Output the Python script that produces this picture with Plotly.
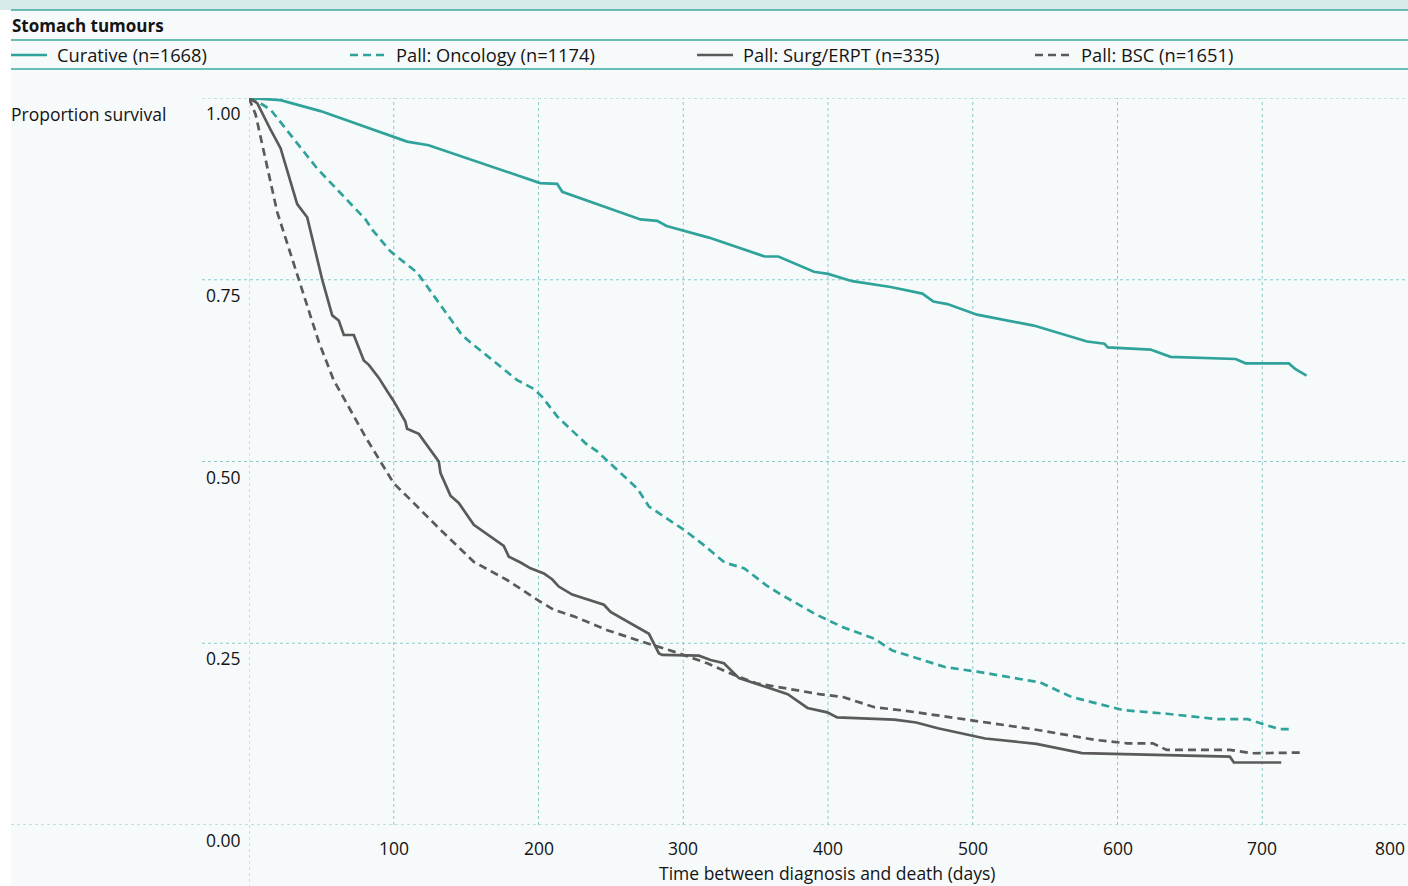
import plotly.graph_objects as go

# ---------------- data ----------------
title_text = "Stomach tumours"
series_names = ["Curative (n=1668)", "Pall: Oncology (n=1174)",
                "Pall: Surg/ERPT (n=335)", "Pall: BSC (n=1651)"]

curative_days = [0, 21.8, 49.4, 109.2, 124.1, 201.1, 212.9, 216.4, 270.5, 282, 288.5, 317.7,
                 356.2, 365.7, 390.3, 400, 416.8, 443.3, 465.2, 472.8, 482.5, 491.7, 503,
                 542.2, 579, 591, 593.3, 622.8, 636.6, 681.6, 688.5, 718.4, 723, 730.6]
curative_surv = [1.0, 0.997, 0.982, 0.940, 0.935, 0.883, 0.882, 0.871, 0.833, 0.831, 0.824,
                 0.808, 0.782, 0.782, 0.761, 0.758, 0.748, 0.740, 0.731, 0.720, 0.7165, 0.710,
                 0.702, 0.687, 0.665, 0.662, 0.657, 0.654, 0.644, 0.641, 0.635, 0.635, 0.627,
                 0.618]

oncology_days = [0, 6, 14.9, 47.1, 80.5, 85.1, 97.7, 116.1, 123, 147.1, 152.9, 185.3, 196.6,
                 202.5, 212.9, 232.5, 240.5, 268.2, 276.3, 300.5, 313.6, 328.6, 342.2, 357.2,
                 366.7, 391.3, 410.4, 432.2, 444.5, 481.3, 503, 546.7, 552, 568.4, 604, 634,
                 669.5, 690, 699.4, 711.7, 721.3]
oncology_surv = [1.0, 0.995, 0.984, 0.903, 0.833, 0.819, 0.789, 0.760, 0.741, 0.674, 0.664,
                 0.612, 0.600, 0.589, 0.562, 0.525, 0.514, 0.463, 0.438, 0.406, 0.386, 0.361,
                 0.353, 0.330, 0.318, 0.290, 0.272, 0.256, 0.240, 0.217, 0.211, 0.196, 0.191,
                 0.176, 0.158, 0.153, 0.1455, 0.1455, 0.1395, 0.132, 0.132]

surg_days = [0, 5.7, 15, 21.8, 33.3, 40.2, 50.6, 57.5, 62, 65.5, 72.4, 79.3, 82.8, 89.7, 95.4,
             100, 108, 109.2, 117.3, 131.1, 132.3, 139.2, 144.9, 155.3, 176, 179.5, 187.6,
             194.5, 203.7, 209.4, 214, 223.3, 245.2, 249.8, 276.3, 283.2, 285.5, 310.8, 318.9,
             328.1, 338.5, 350.4, 372.2, 385.8, 399.5, 406.3, 445.8, 460.9, 475.9, 508.6, 544,
             575.4, 677.6, 680.4, 713.1]
surg_surv = [1.0, 0.993, 0.956, 0.931, 0.854, 0.836, 0.750, 0.701, 0.694, 0.674, 0.674, 0.639,
             0.633, 0.615, 0.597, 0.583, 0.555, 0.545, 0.538, 0.500, 0.484, 0.453, 0.443, 0.413,
             0.384, 0.369, 0.361, 0.353, 0.346, 0.338, 0.328, 0.317, 0.303, 0.293, 0.263, 0.236,
             0.234, 0.233, 0.227, 0.2225, 0.202, 0.194, 0.180, 0.161, 0.155, 0.148, 0.145,
             0.141, 0.133, 0.119, 0.1115, 0.099, 0.094, 0.086, 0.086]

bsc_days = [0, 1.1, 4.6, 19.5, 34.5, 48.3, 58.5, 70, 80.4, 90.8, 100, 109.2, 132.3, 155.3,
            178.3, 199, 210.6, 224.4, 247.5, 275, 293.5, 316.6, 336.7, 350.4, 372.2, 394,
            410.4, 432.2, 454, 500.3, 544, 584.9, 606.7, 624.4, 634, 677.6, 692.6, 726.7]
bsc_surv = [1.0, 0.995, 0.977, 0.843, 0.750, 0.664, 0.612, 0.571, 0.534, 0.500, 0.470, 0.452,
            0.406, 0.362, 0.337, 0.310, 0.296, 0.287, 0.268, 0.250, 0.2385, 0.2225, 0.205,
            0.195, 0.187, 0.180, 0.176, 0.162, 0.157, 0.1436, 0.131, 0.117, 0.1124, 0.1124,
            0.1033, 0.1033, 0.0987, 0.0996]

x_ticks = [100, 200, 300, 400, 500, 600, 700, 800]
x_tick_labels = ["100", "200", "300", "400", "500", "600", "700", "800"]
y_ticks = [1.0, 0.75, 0.5, 0.25, 0.0]
y_tick_labels = ["1.00", "0.75", "0.50", "0.25", "0.00"]
y_title = "Proportion survival"
x_title = "Time between diagnosis and death (days)"

# ---------------- style ----------------
W, H = 1408, 886
ML, MR, MT, MB = 249, 1, 98, 61
PW, PH = W - ML - MR, H - MT - MB
TEAL = "#2fa39b"
GREY = "#5a5a5a"
GRID = "#8cc8cc"
RULE = "#3ba9a1"
FONT = "Open Sans"
TXT = "#141414"
FS = 17.5
FS_LEG = 18.3
FS_TITLE = 17


def px(xp):
    return (xp - ML) / PW


def py(yp):
    return (H - MB - yp) / PH


fig = go.Figure()

styles = [(TEAL, "solid"), (TEAL, "8px,5px"), (GREY, "solid"), (GREY, "8px,5px")]
data = [(curative_days, curative_surv), (oncology_days, oncology_surv),
        (surg_days, surg_surv), (bsc_days, bsc_surv)]
for (xs, ys), (col, dash), name in zip(data, styles, series_names):
    fig.add_trace(go.Scatter(x=xs, y=ys, mode="lines", name=name, showlegend=False,
                             line=dict(color=col, width=2.7, dash=dash), cliponaxis=False,
                             hoverinfo="skip"))

shapes = []
# backgrounds
shapes.append(dict(type="rect", xref="paper", yref="paper", x0=px(11), x1=px(W + 2),
                   y0=py(H + 2), y1=py(10), fillcolor="#f7fafa", line_width=0, layer="below"))
shapes.append(dict(type="rect", xref="paper", yref="paper", x0=px(-2), x1=px(W + 2),
                   y0=py(10), y1=py(-2), fillcolor="#d9eaea", line_width=0, layer="below"))
# header rules
for yp in [10, 40, 69]:
    shapes.append(dict(type="line", xref="paper", yref="paper", x0=px(11), x1=px(W + 2),
                       y0=py(yp), y1=py(yp), line=dict(color=RULE, width=1.5), layer="below"))
# horizontal gridlines
for v in y_ticks:
    x0 = px(11) if v == 0 else px(202)
    shapes.append(dict(type="line", xref="paper", yref="y", x0=x0, x1=px(W + 2), y0=v, y1=v,
                       line=dict(color=GRID, width=1, dash="dot"), layer="below"))
# vertical gridlines
for v in [0] + x_ticks[:-1]:
    y0 = py(H + 2) if v == 0 else 0
    shapes.append(dict(type="line", xref="x", yref="paper", x0=v, x1=v, y0=y0, y1=1,
                       line=dict(color=GRID, width=1, dash="dot"), layer="below"))
# legend samples
leg_x = [11, 350, 697, 1035]
for xs, (col, dash) in zip(leg_x, styles):
    shapes.append(dict(type="line", xref="paper", yref="paper", x0=px(xs), x1=px(xs + 36),
                       y0=py(55), y1=py(55), line=dict(color=col, width=2.7, dash=dash)))

annotations = []
annotations.append(dict(text="<b>" + title_text + "</b>", xref="paper", yref="paper",
                        x=px(10), y=py(25), xanchor="left", yanchor="middle", showarrow=False,
                        font=dict(family=FONT, size=FS_TITLE, color=TXT)))
for xs, name in zip(leg_x, series_names):
    annotations.append(dict(text=name, xref="paper", yref="paper", x=px(xs + 44), y=py(55),
                            xanchor="left", yanchor="middle", showarrow=False,
                            font=dict(family=FONT, size=FS_LEG, color=TXT)))
annotations.append(dict(text=y_title, xref="paper", yref="paper", x=px(9), y=py(114),
                        xanchor="left", yanchor="middle", showarrow=False,
                        font=dict(family=FONT, size=FS, color=TXT)))
for v, lab in zip(y_ticks, y_tick_labels):
    annotations.append(dict(text=lab, xref="paper", yref="y", x=px(243), y=v, yshift=-15,
                            xanchor="right", yanchor="middle", showarrow=False,
                            font=dict(family=FONT, size=FS, color=TXT)))
for v, lab in zip(x_ticks, x_tick_labels):
    anchor = "right" if v == x_ticks[-1] else "center"
    annotations.append(dict(text=lab, xref="x", yref="paper", x=v, y=py(848),
                            xanchor=anchor, yanchor="middle", showarrow=False,
                            font=dict(family=FONT, size=FS, color=TXT)))
annotations.append(dict(text=x_title, xref="paper", yref="paper", x=px(827), y=py(873),
                        xanchor="center", yanchor="middle", showarrow=False,
                        font=dict(family=FONT, size=FS, color=TXT)))

fig.update_layout(
    width=W, height=H,
    margin=dict(l=ML, r=MR, t=MT, b=MB, pad=0),
    paper_bgcolor="white", plot_bgcolor="rgba(0,0,0,0)",
    xaxis=dict(range=[0, 800], showgrid=False, zeroline=False, showticklabels=False,
               showline=False, ticks=""),
    yaxis=dict(range=[0, 1], showgrid=False, zeroline=False, showticklabels=False,
               showline=False, ticks=""),
    shapes=shapes, annotations=annotations, showlegend=False,
    font=dict(family=FONT, size=FS, color=TXT),
)

fig.write_html("out.html", config={"displayModeBar": False},
               post_script="document.body.style.margin='0';document.body.style.overflow='hidden';")
